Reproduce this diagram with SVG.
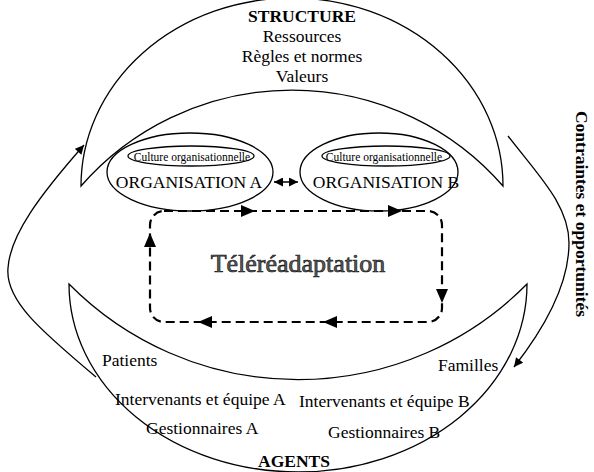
<svg xmlns="http://www.w3.org/2000/svg" width="594" height="472" viewBox="0 0 594 472">
<style>
.ln{fill:none;stroke:#000;stroke-width:1.3}
.t{font-family:"Liberation Serif","Times New Roman",serif;font-size:17.5px;fill:#000}
.b{font-weight:bold}
.s{font-size:11.5px}
.m{text-anchor:middle}
.dash{fill:none;stroke:#000;stroke-width:2.2;stroke-dasharray:9 5}
.tri{fill:#000;stroke:none}
</style>
<defs>
<marker id="ah" viewBox="0 0 10 10" refX="10" refY="5" markerWidth="10" markerHeight="9" markerUnits="userSpaceOnUse" orient="auto-start-reverse">
<path d="M0,0 L10,5 L0,10 z" fill="#000"/>
</marker>
</defs>
<rect width="594" height="472" fill="#fff"/>
<g id="structure">
<path class="ln" d="M81,186 A211,188 0 0 1 503,186 A280,280 0 0 0 81,186 Z"/>
<text class="t b m" x="302" y="22">STRUCTURE</text>
<text class="t m" x="302" y="42">Ressources</text>
<text class="t m" x="302" y="62">Règles et normes</text>
<text class="t m" x="302" y="82">Valeurs</text>
</g>
<g id="agents">
<path class="ln" d="M69,284 A229,188 0 0 0 527,284 A322,322 0 0 1 69,284 Z"/>
<text class="t" x="102" y="366">Patients</text>
<text class="t" x="438" y="371">Familles</text>
<text class="t" x="115" y="405">Intervenants et équipe A</text>
<text class="t" x="299" y="407">Intervenants et équipe B</text>
<text class="t" x="146" y="434">Gestionnaires A</text>
<text class="t" x="328" y="438">Gestionnaires B</text>
<text class="t b m" x="294" y="467">AGENTS</text>
</g>
<g id="organisation-a">
<ellipse class="ln" cx="190" cy="172" rx="83" ry="39"/>
<ellipse class="ln" cx="191" cy="156" rx="63" ry="10"/>
<text class="t s m" x="192" y="161">Culture organisationnelle</text>
<text class="t m" x="189" y="188">ORGANISATION A</text>
</g>
<g id="organisation-b">
<ellipse class="ln" cx="379" cy="172" rx="79" ry="39"/>
<ellipse class="ln" cx="386" cy="156" rx="64" ry="10"/>
<text class="t s m" x="384" y="161">Culture organisationnelle</text>
<text class="t m" x="386" y="188">ORGANISATION B</text>
</g>
<g id="telereadaptation">
<rect class="dash" x="150" y="211" width="292" height="111" rx="14"/>
<text class="t m" x="298" y="272" style="font-size:26px;fill:#5a5a5a;stroke:#1a1a1a;stroke-width:0.7">Téléréadaptation</text>
</g>
<g id="contraintes">
<text class="t b m" transform="translate(576,214) rotate(90)">Contraintes et opportunités</text>
</g>
<g id="connectors">
<path class="ln" d="M274,182 L298,182" marker-start="url(#ah)" marker-end="url(#ah)" style="stroke-width:1.5"/>
<path class="ln" d="M96,377 C40,330 5,300 8,268 C10,235 40,195 84,145" marker-end="url(#ah)"/>
<path class="ln" d="M508,136 C538,175 569,205 569,243 C569,285 543,330 514,367" marker-end="url(#ah)"/>
<polygon class="tri" points="255,211 241,205 241,217"/>
<polygon class="tri" points="402,211 388,205 388,217"/>
<polygon class="tri" points="442,303 436,289 448,289"/>
<polygon class="tri" points="198,322 212,316 212,328"/>
<polygon class="tri" points="323,322 337,316 337,328"/>
<polygon class="tri" points="150,233 144,247 156,247"/>
</g>
</svg>
